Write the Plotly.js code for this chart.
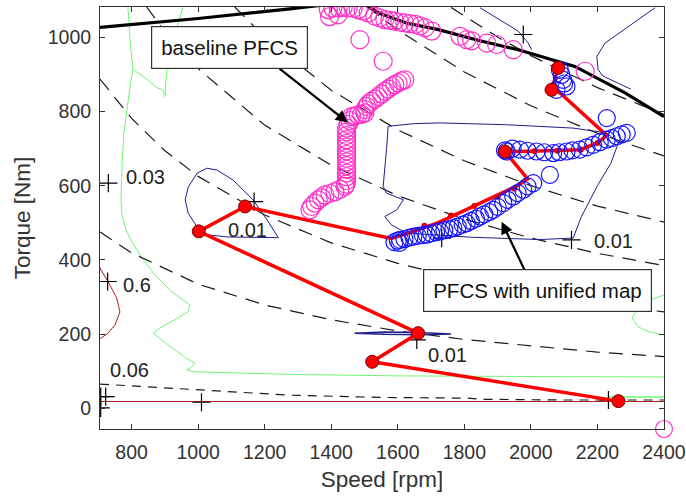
<!DOCTYPE html>
<html><head><meta charset="utf-8">
<script src="https://cdn.plot.ly/plotly-3.0.1.min.js"></script>
<style>body{margin:0;background:#fff}#g{width:686px;height:499px}</style>
</head><body><div id="g"></div>
<script>
// ---- data ----
const xTicks = [800,1000,1200,1400,1600,1800,2000,2200,2400];
const yTicks = [0,200,400,600,800,1000];

// maximum torque curve
const maxTx = [705,1000,1276,1400,1450,1500,1550,1626,1722,1847,1962,2132,2283,2400];
const maxTy = [1026,1050,1076,1090,1094,1088,1062,1038,1020,990,966,921,850,786];

// dashed iso-lines
const d1x = [705,990,1276,1550,1811,1853,2100,2400];
const d1y = [66,52,36,30,28,25,23,23];
const d2x = [705,800,1000,1200,1400,1600,1800,2000,2200,2400];
const d2y = [475,419,335,279,239,209,186,168,152,140];
const d3x = [705,800,900,1000,1200,1400,1600,1800,2000,2200,2400];
const d3y = [887,781,694,625,521,446,391,347,313,284,260];
const d4x = [845,900,1000,1200,1400,1600,1800,2000,2200,2400];
const d4y = [1081,1015,915,763,655,573,510,459,418,385];
const d5x = [1110,1200,1400,1600,1800,2000,2200,2400];
const d5y = [1081,1000,857,750,667,600,545,502];
const d6x = [1510,1600,1800,2000,2200,2400];
const d6y = [1080,1019,906,815,741,680];
const d7x = [1760,1900,2000,2200,2400];
const d7y = [1080,1000,950,864,792];

// green contour
const gAx = [954,939,921,906,900,894,876,840,804,795,789];
const gAy = [1080,1034,980,913,840,858,864,891,913,993,1082];
const gBx = [804,795,786,777,771,768,771,783,801,831,870,920,955,975,970,930,890,865,890,930,965,990,975,965,990,1276,1607,2058,2400];
const gBy = [913,866,804,742,651,562,521,481,449,405,360,315,292,279,261,239,220,203,185,158,135,122,108,104,99,92,88,86,85];
const gCx = [2400,2358,2312,2304,2322,2358,2400];
const gCy = [306,292,257,244,220,206,198];
const gDx = [2230,2400];
const gDy = [31,31];

// dark red contour
const rAx = [705,708,729,755,765,750,729,708,705];
const rAy = [380,373,342,298,260,225,203,190,188];
const rBx = [705,2400];
const rBy = [19,19];

// blue contours
const b1x = [1241,1207,1165,1105,1057,1027,997,970,961,970,997,1027,1087,1241];
const b1y = [460,508,562,615,642,647,634,596,562,526,489,468,462,460];
const b2x = [1470,1560,1660,1760,1660,1560,1470];
const b2y = [203,206,205,201,199,200,203];
const b3x = [1571,1650,1727,1927,2127,2228,2263,2240,2200,2152,2127,2027,1827,1627,1580,1561,1597,1617,1566,1556,1566,1571];
const b3y = [760,767,769,764,755,742,715,660,600,517,459,455,461,472,495,517,535,562,580,598,697,760];
const b4x = [1847,1912,1962,1992,2002];
const b4y = [1079,1043,1016,984,966];
const b5x = [2373,2293,2223,2198,2202,2217,2257,2300];
const b5y = [1079,1029,984,948,912,895,878,860];

// contour label markers and labels
const plusX = [730,1168,728,1657,2122,1977,2233,1010,707,722,707,1732];
const plusY = [607,557,342,185,454,1007,23,17,32,32,2,459];
const lblText = ['0.03','0.01','0.6','0.06','0.01','0.01'];
const lblX = [843,1147,816,795,1748,2247];
const lblY = [623,481,333,104,144,451];

// red operating trajectory (unified map)
const redLx = [2263,1523,1661,1002,1141,1580,1650,1720,1780,1840,1900,1960,1990,1922,2000,2080,2148,2200,2228,2087,2062,2082];
const redLy = [20,126,203,477,544,458,478,500,525,550,575,600,618,692,693,694,697,715,735,850,858,917];
const redMx = [2263,1523,1661,1002,1141,1922,2062,2082];
const redMy = [20,126,203,477,544,692,858,917];
const redSx = [1680,1760,1830,1900,1950,2010,2080,2150,2200];
const redSy = [492,520,545,570,592,693,694,697,715];

// baseline PFCS points (magenta)
const pinkX = [1391,1395,1405,1420,1421,1436,1451,1466,1481,1496,1511,1531,1546,1561,1576,1591,1606,1621,1636,1652,1667,1682,1702,1787,1807,1822,1867,1897,1947,
  1486,1556,2163,
  1621,1611,1601,1591,1581,1571,1561,1551,1541,1531,1521,1511,1506,1501,1501,1491,1481,1471,1461,
  1456,1451,1446,1446,1446,1446,1446,1446,1446,1446,1446,1446,1446,1446,1446,1446,1446,1444,1441,1426,1411,1396,1381,1371,1361,1351,1341,1336];
const pinkY = [1074,1055,1078,1060,1079,1080,1079,1077,1074,1070,1065,1056,1052,1047,1045,1043,1040,1038,1036,1034,1030,1025,1016,1002,993,990,984,980,966,
  993,935,908,
  885,882,877,872,867,860,854,847,840,833,827,820,813,805,796,792,791,788,786,
  775,765,755,745,735,724,714,704,694,684,674,664,654,644,634,624,614,604,598,590,584,579,575,568,562,553,544,535];

// unified map PFCS points (blue)
const blueX = [1590,1600,1605,1607,1620,1635,1647,1660,1675,1687,1700,1715,1727,1740,1755,1767,1780,1795,1807,1820,1835,1847,1860,1875,1887,1900,1917,1930,1947,1960,1977,1990,2007,2057,
  1922,1927,1945,1967,1990,2017,2040,2067,2085,2107,2125,2147,2167,2187,2207,2228,2243,2258,2273,2288,2228,
  2077,2087,2092,2097,2100,2107];
const blueY = [448,452,446,454,456,460,463,465,467,468,472,475,477,480,483,486,490,495,499,505,511,517,523,529,535,543,553,562,571,580,589,598,607,629,
  695,692,700,697,694,692,690,688,690,692,695,697,703,710,717,724,728,733,738,742,782,
  858,912,898,885,875,867];

// points at the lower-right corner of the axes
const cornerPinkX = [2400], cornerPinkY = [-55];
const cornerBlueX = [2401], cornerBlueY = [-52];

// annotation boxes / arrows
const boxText = ['baseline PFCS','PFCS with unified map'];
const boxX = [1093,2021];
const boxY = [973,317];
const arrTipX = [1450,1912];
const arrTipY = [770,503];
const arrTailX = [1240,1983];
const arrTailY = [918,369];

// ---- drawing ----
const ln = (x,y,color,width,dash) => ({x,y,type:'scatter',mode:'lines',line:{color,width,dash:dash||'solid'},hoverinfo:'skip',showlegend:false});
const dashC = '#1a1a1a';
const green = 'rgb(115,245,115)', dred = 'rgb(175,30,30)', navy = 'rgb(30,30,140)';
const traces = [
  ln(gAx,gAy,green,1), ln(gBx,gBy,green,1), ln(gCx,gCy,green,1), ln(gDx,gDy,green,1.5),
  ln(rAx,rAy,dred,1), ln(rBx,rBy,dred,1),
  ln(d1x,d1y,dashC,1.2,'9px,7px'), ln(d2x,d2y,dashC,1.2,'14px,9px'), ln(d3x,d3y,dashC,1.2,'14px,9px'),
  ln(d4x,d4y,dashC,1.2,'14px,9px'), ln(d5x,d5y,dashC,1.2,'14px,9px'), ln(d6x,d6y,dashC,1.2,'14px,9px'), ln(d7x,d7y,dashC,1.2,'14px,9px'),
  ln(b1x,b1y,navy,1), ln(b2x,b2y,navy,1.5), ln(b3x,b3y,navy,1), ln(b4x,b4y,navy,1), ln(b5x,b5y,navy,1),
  ln(maxTx,maxTy,'#000',3.2),
  {x:plusX,y:plusY,type:'scatter',mode:'markers',marker:{symbol:'cross-thin-open',size:13,color:'#000',line:{color:'#000',width:1.2}},hoverinfo:'skip',showlegend:false},
  ln(redLx,redLy,'rgb(255,0,0)',3.5),
  {x:redSx,y:redSy,type:'scatter',mode:'markers',marker:{color:'rgb(230,0,0)',size:6},hoverinfo:'skip',showlegend:false},
  {x:blueX,y:blueY,type:'scatter',mode:'markers',marker:{symbol:'circle-open',size:17,color:'rgb(20,20,255)',line:{width:1.2}},hoverinfo:'skip',showlegend:false},
  {x:redMx,y:redMy,type:'scatter',mode:'markers',marker:{color:'rgb(255,0,0)',size:13,line:{color:'rgb(110,0,0)',width:1}},hoverinfo:'skip',showlegend:false},
  {x:pinkX,y:pinkY,type:'scatter',mode:'markers',marker:{symbol:'circle-open',size:18,color:'rgb(255,50,200)',line:{width:1.2}},hoverinfo:'skip',showlegend:false},
  {x:cornerBlueX,y:cornerBlueY,type:'scatter',mode:'markers',cliponaxis:false,marker:{symbol:'circle-open',size:17,color:'rgb(20,20,255)',line:{width:1.2}},hoverinfo:'skip',showlegend:false},
  {x:cornerPinkX,y:cornerPinkY,type:'scatter',mode:'markers',cliponaxis:false,marker:{symbol:'circle-open',size:17,color:'rgb(255,50,200)',line:{width:1.2}},hoverinfo:'skip',showlegend:false}
];

const fam = 'Liberation Sans, Arial, sans-serif';
const tickFont = {family:fam,size:19.5,color:'#333'};
const annotations = [];
lblText.forEach((t,i)=>annotations.push({x:lblX[i],y:lblY[i],text:t,showarrow:false,font:{family:fam,size:20,color:'#222'}}));
arrTipX.forEach((t,i)=>annotations.push({x:arrTipX[i],y:arrTipY[i],ax:arrTailX[i],ay:arrTailY[i],axref:'x',ayref:'y',text:'',showarrow:true,arrowhead:2,arrowsize:1.1,arrowwidth:2.2,arrowcolor:'#000'}));
boxText.forEach((t,i)=>annotations.push({x:boxX[i],y:boxY[i],text:t,showarrow:false,bgcolor:'#fff',bordercolor:'#333',borderwidth:1.2,borderpad:9,font:{family:fam,size:20.5,color:'#111'}}));

const axisBase = {showgrid:false,zeroline:false,showline:true,linecolor:'#333',linewidth:1,mirror:'ticks',ticks:'inside',ticklen:5,tickcolor:'#333',tickfont:tickFont};
const layout = {
  width:686,height:499,margin:{l:100,r:22,t:7,b:70},
  paper_bgcolor:'#fff',plot_bgcolor:'#fff',showlegend:false,
  xaxis:Object.assign({},axisBase,{range:[705,2400],tickvals:xTicks,ticktext:xTicks.map(String),ticklabelstandoff:6,
    title:{text:'Speed [rpm]',font:{family:fam,size:22.5,color:'#333'},standoff:8}}),
  yaxis:Object.assign({},axisBase,{range:[-55,1081],tickvals:yTicks,ticktext:yTicks.map(String),ticklabelstandoff:4,
    title:{text:'Torque [Nm]',font:{family:fam,size:22.5,color:'#333'},standoff:10}}),
  annotations
};
Plotly.newPlot('g',traces,layout,{staticPlot:true,displayModeBar:false});
</script></body></html>
